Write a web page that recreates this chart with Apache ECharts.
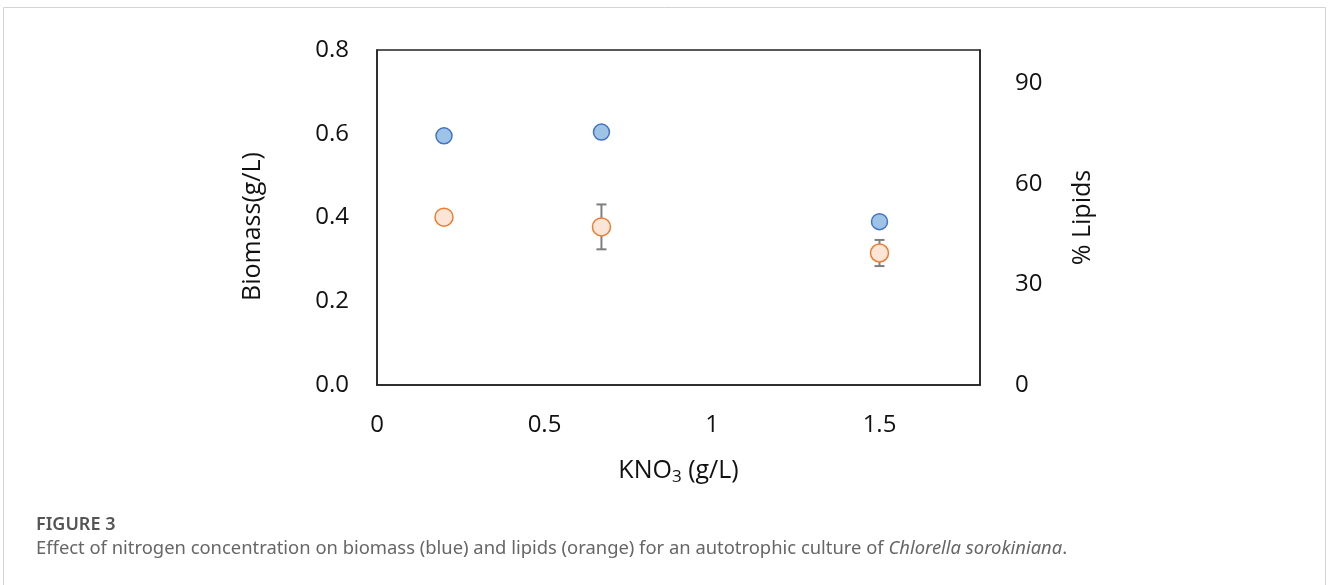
<!DOCTYPE html>
<html>
<head>
<meta charset="utf-8">
<script src="https://cdn.jsdelivr.net/npm/echarts@6/dist/echarts.min.js"></script>
<style>
html, body { margin: 0; padding: 0; background: #fff; }
#chart { width: 1330px; height: 585px; }
</style>
</head>
<body>
<div id="chart"></div>
<script>
// KNO3 concentrations (g/L)
var kno3 = [0.2, 0.67, 1.5];
// biomass (g/L), left axis
var biomass = [0.595, 0.604, 0.39];
// % lipids, right axis
var lipids = [50.1, 47.2, 39.4];
// lipid standard deviations
var lipidErr = [0, 6.7, 3.9];

var xTicks = [0, 0.5, 1, 1.5];
var biomassTicks = [0.0, 0.2, 0.4, 0.6, 0.8];
var lipidTicks = [0, 30, 60, 90];

var font = '"Open Sans", "Noto Sans", sans-serif';

var myChart = echarts.init(document.getElementById('chart'));

var errData = kno3.map(function (x, i) {
    return [x, lipids[i] - lipidErr[i], lipids[i] + lipidErr[i]];
}).filter(function (d) { return d[2] > d[1]; });

myChart.setOption({
    animation: false,
    backgroundColor: '#fff',
    graphic: [
        {
            type: 'rect',
            shape: { x: 3.5, y: 7.5, width: 1322, height: 620 },
            style: { fill: 'none', stroke: '#d4d4d4', lineWidth: 1 },
            silent: true
        },
        {
            type: 'text',
            left: 36,
            top: 516,
            style: {
                text: 'FIGURE 3',
                font: '600 18px "Noto Sans", sans-serif',
                fill: '#555'
            }
        },
        {
            type: 'text',
            left: 36,
            top: 540,
            style: {
                text: 'Effect of nitrogen concentration on biomass (blue) and lipids (orange) for an autotrophic culture of {it|Chlorella sorokiniana}.',
                font: '18.4px "Noto Sans", sans-serif',
                fill: '#666',
                rich: {
                    it: { fontStyle: 'italic', fontSize: 18.4, fontFamily: '"Noto Sans", sans-serif', fill: '#666' }
                }
            }
        }
    ],
    grid: {
        left: 377,
        right: 350,
        top: 50,
        bottom: 200,
        show: true,
        borderColor: '#222',
        borderWidth: 1.5,
        backgroundColor: 'transparent'
    },
    xAxis: {
        type: 'value',
        min: xTicks[0],
        max: 1.8,
        interval: 0.5,
        name: 'KNO{sub|3} (g/L)',
        nameLocation: 'middle',
        nameGap: 70,
        nameTextStyle: {
            fontFamily: font,
            fontSize: 25,
            color: '#111',
            rich: {
                sub: { fontSize: 17, verticalAlign: 'bottom', padding: [14, 0, 0, 0], fontFamily: font, color: '#111' }
            }
        },
        axisLine: { show: true, lineStyle: { color: '#222', width: 1.5 } },
        axisTick: { show: false },
        splitLine: { show: false },
        axisLabel: {
            margin: 28,
            fontFamily: font,
            fontSize: 24,
            color: '#111',
            showMaxLabel: false
        }
    },
    yAxis: [
        {
            type: 'value',
            min: biomassTicks[0],
            max: biomassTicks[biomassTicks.length - 1],
            interval: 0.2,
            name: 'Biomass(g/L)',
            nameLocation: 'middle',
            nameGap: 112,
            nameTextStyle: { fontFamily: font, fontSize: 25, color: '#111', padding: [0, 18, 0, 0] },
            axisLine: { show: true, lineStyle: { color: '#222', width: 1.5 } },
            axisTick: { show: false },
            splitLine: { show: false },
            axisLabel: {
                margin: 28,
                fontFamily: font,
                fontSize: 24,
                color: '#111',
                formatter: function (v) { return v.toFixed(1); }
            }
        },
        {
            type: 'value',
            min: lipidTicks[0],
            max: 100,
            interval: 30,
            position: 'right',
            name: '% Lipids',
            nameLocation: 'middle',
            nameGap: 90,
            nameTextStyle: { fontFamily: font, fontSize: 25, color: '#111' },
            axisLine: { show: true, lineStyle: { color: '#222', width: 1.5 } },
            axisTick: { show: false },
            splitLine: { show: false },
            axisLabel: {
                margin: 35,
                fontFamily: font,
                fontSize: 24,
                color: '#111',
                showMaxLabel: false
            }
        }
    ],
    series: [
        {
            name: 'Lipid error',
            type: 'custom',
            yAxisIndex: 1,
            data: errData,
            z: 1,
            renderItem: function (params, api) {
                var lo = api.coord([api.value(0), api.value(1)]);
                var hi = api.coord([api.value(0), api.value(2)]);
                var w = 5;
                var st = { stroke: '#7f7f7f', lineWidth: 2 };
                return {
                    type: 'group',
                    children: [
                        { type: 'line', shape: { x1: lo[0], y1: lo[1], x2: hi[0], y2: hi[1] }, style: st },
                        { type: 'line', shape: { x1: lo[0] - w, y1: lo[1], x2: lo[0] + w, y2: lo[1] }, style: st },
                        { type: 'line', shape: { x1: hi[0] - w, y1: hi[1], x2: hi[0] + w, y2: hi[1] }, style: st }
                    ]
                };
            }
        },
        {
            name: 'Biomass',
            type: 'scatter',
            yAxisIndex: 0,
            symbolSize: 16,
            z: 3,
            itemStyle: { color: '#9dc3e6', borderColor: '#4472c4', borderWidth: 1.5, opacity: 1 },
            data: kno3.map(function (x, i) { return [x, biomass[i]]; })
        },
        {
            name: 'Lipids',
            type: 'scatter',
            yAxisIndex: 1,
            symbolSize: 18,
            z: 3,
            itemStyle: { color: '#fbe5d6', borderColor: '#ed7d31', borderWidth: 1.5, opacity: 1 },
            data: kno3.map(function (x, i) { return [x, lipids[i]]; })
        }
    ]
});
</script>
</body>
</html>
